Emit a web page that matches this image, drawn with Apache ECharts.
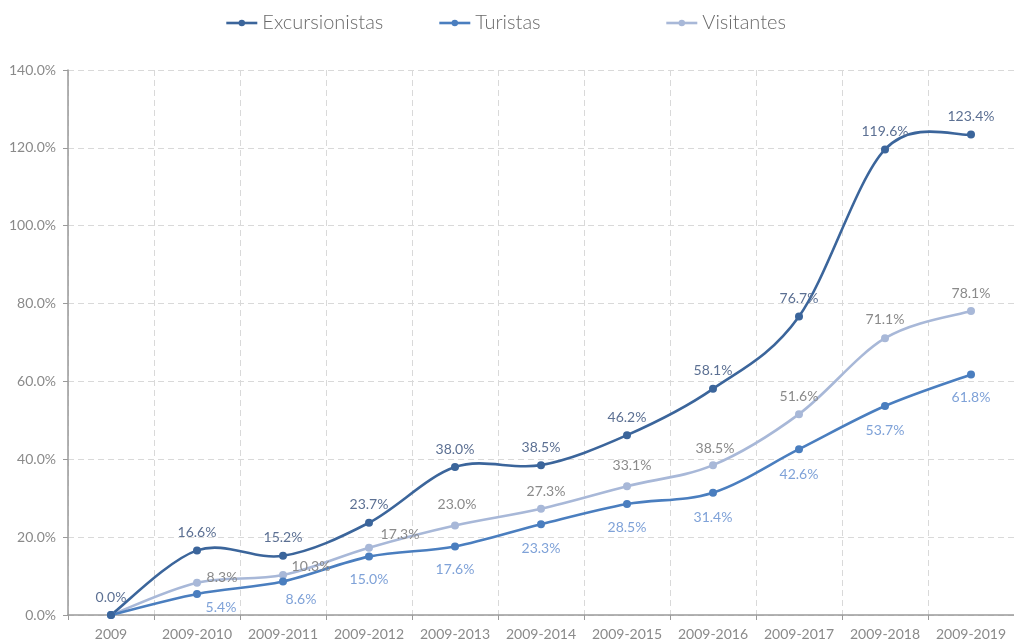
<!DOCTYPE html>
<html>
<head>
<meta charset="utf-8">
<script src="https://cdn.jsdelivr.net/npm/echarts@6/dist/echarts.min.js"></script>
<style>
html,body{margin:0;padding:0;background:#fff;}
#chart{width:1014px;height:641px;}
</style>
</head>
<body>
<div id="chart"></div>
<script>
// ---- data ----
const categories = ['2009','2009-2010','2009-2011','2009-2012','2009-2013','2009-2014','2009-2015','2009-2016','2009-2017','2009-2018','2009-2019'];
const excursionistas = [0.0, 16.6, 15.2, 23.7, 38.0, 38.5, 46.2, 58.1, 76.7, 119.6, 123.4];
const turistas = [0.0, 5.4, 8.6, 15.0, 17.6, 23.3, 28.5, 31.4, 42.6, 53.7, 61.8];
const visitantes = [0.0, 8.3, 10.3, 17.3, 23.0, 27.3, 33.1, 38.5, 51.6, 71.1, 78.1];
const seriesNames = ['Excursionistas', 'Turistas', 'Visitantes'];
const yTicks = [0, 20, 40, 60, 80, 100, 120, 140];

// ---- label placement (style, not data) ----
const excOffsets = categories.map(() => [0, -18]);
const turOffsets = [null, [24, 14], [18, 18], [0, 23], [0, 23], [0, 24], [0, 23], [0, 25], [0, 25], [0, 25], [0, 23]];
const visOffsets = [null, [25, -5], [28, -8], [31, -13], [2, -21], [5, -17], [5, -21], [2, -17], [0, -18], [0, -19], [0, -17]];

const FONT = 'Lato, "Open Sans", sans-serif';
const colors = ['#3b659b', '#4a7ebf', '#a8b8d8'];
const labelColors = ['#5c7093', '#7fa2d8', '#8a8a8a'];
const LW = 2.6;

function buildData(values, offsets, color) {
  return values.map((v, i) => ({
    value: v,
    label: offsets[i] ? {
      show: true, position: 'inside', offset: offsets[i],
      formatter: (p) => p.value.toFixed(1) + '%',
      color: color, fontSize: 14, fontFamily: FONT, fontWeight: 'normal'
    } : { show: false }
  }));
}

function pointSeries(name, values, offsets, idx) {
  return {
    name: name, type: 'line',
    data: buildData(values, offsets, labelColors[idx]),
    symbol: 'circle', symbolSize: 8,
    lineStyle: { width: 0, opacity: 0 },
    itemStyle: { color: colors[idx] },
    emphasis: { disabled: true },
    z: 20 - idx
  };
}

// smooth curve (Bezier segments with 1/6 tangents) placed through the axes' coord()
function curveSeries(values, idx) {
  return {
    name: '_curve' + idx, type: 'custom',
    data: values.map((v, i) => [i, v]),
    encode: { x: 0, y: 1 },
    silent: true, z: 10 - idx,
    renderItem: function (params, api) {
      const i = params.dataIndex;
      if (i === 0) return null;
      const n = values.length;
      const P = (k) => api.coord([Math.max(0, Math.min(n - 1, k)), values[Math.max(0, Math.min(n - 1, k))]]);
      const p0 = P(i - 2), p1 = P(i - 1), p2 = P(i), p3 = P(i + 1);
      const t = 1 / 6;
      return {
        type: 'bezierCurve',
        shape: {
          x1: p1[0], y1: p1[1], x2: p2[0], y2: p2[1],
          cpx1: p1[0] + (p2[0] - p0[0]) * t, cpy1: p1[1] + (p2[1] - p0[1]) * t,
          cpx2: p2[0] - (p3[0] - p1[0]) * t, cpy2: p2[1] - (p3[1] - p1[1]) * t
        },
        style: { stroke: colors[idx], lineWidth: LW, fill: null, lineCap: 'round' }
      };
    }
  };
}

const legendLefts = [225, 438, 665];
const chart = echarts.init(document.getElementById('chart'), null, { renderer: 'canvas' });
chart.setOption({
  animation: false,
  backgroundColor: '#fff',
  textStyle: { fontFamily: FONT },
  legend: seriesNames.map((n, i) => ({
    data: [n], left: legendLefts[i], top: 13, padding: 0,
    itemWidth: 31, itemHeight: 8, itemGap: 6,
    lineStyle: { width: LW, opacity: 1, color: colors[i] },
    itemStyle: { color: colors[i] },
    textStyle: { fontSize: 20, color: '#6a6a6a', fontFamily: FONT, fontWeight: 300 }
  })),
  grid: { left: 68, top: 70, width: 951, height: 546, containLabel: false },
  xAxis: {
    type: 'category', data: categories, boundaryGap: true,
    axisLine: { lineStyle: { color: '#9a9a9a', width: 1.5 } },
    axisTick: { show: true, length: 5, lineStyle: { color: '#9a9a9a' } },
    axisLabel: { color: '#8a8a8a', fontSize: 14, margin: 12, fontFamily: FONT, interval: 0 },
    splitLine: { show: true, lineStyle: { type: [6, 4], color: '#d9d9d9', width: 1 } }
  },
  yAxis: {
    type: 'value', min: yTicks[0], max: yTicks[yTicks.length - 1], interval: 20,
    axisLine: { show: true, lineStyle: { color: '#9a9a9a', width: 1.5 } },
    axisTick: { show: true, length: 5, lineStyle: { color: '#9a9a9a' } },
    axisLabel: { color: '#8a8a8a', fontSize: 14, margin: 12, fontFamily: FONT, formatter: (v) => v.toFixed(1) + '%' },
    splitLine: { show: true, lineStyle: { type: [6, 4], color: '#d9d9d9', width: 1 } }
  },
  series: [
    curveSeries(excursionistas, 0),
    curveSeries(turistas, 1),
    curveSeries(visitantes, 2),
    pointSeries(seriesNames[0], excursionistas, excOffsets, 0),
    pointSeries(seriesNames[1], turistas, turOffsets, 1),
    pointSeries(seriesNames[2], visitantes, visOffsets, 2)
  ]
});
</script>
</body>
</html>
